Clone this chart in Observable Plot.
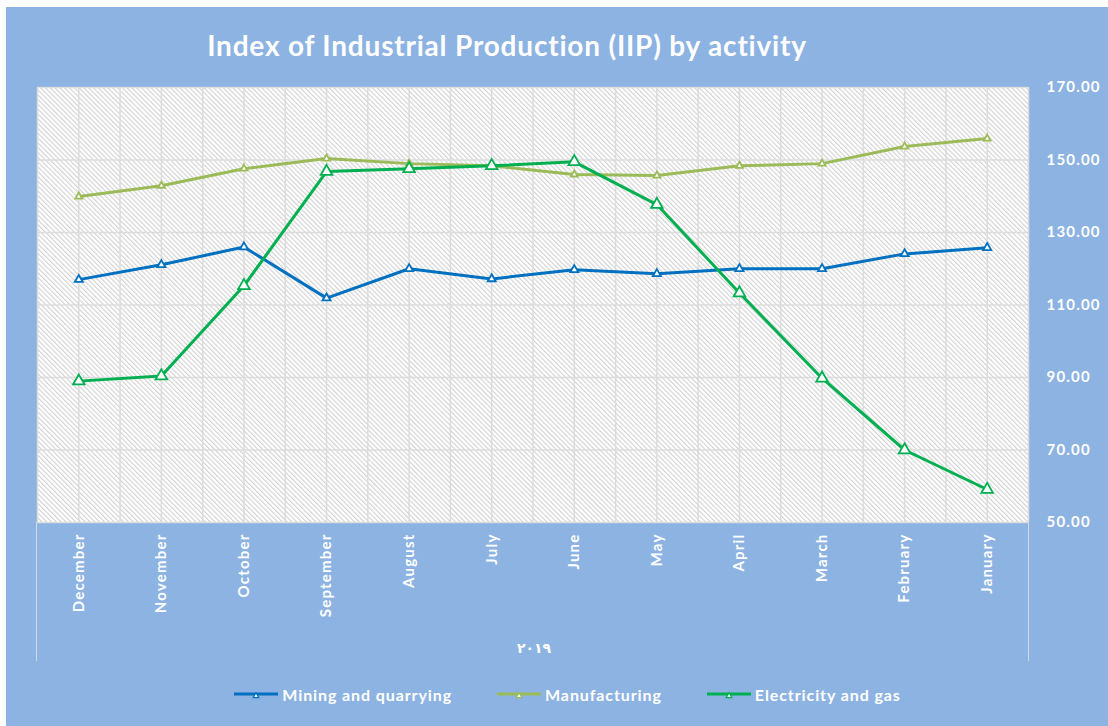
<!DOCTYPE html>
<html>
<head>
<meta charset="utf-8">
<script src="https://cdn.jsdelivr.net/npm/d3@7"></script>
<script src="https://cdn.jsdelivr.net/npm/@observablehq/plot@0.6"></script>
<style>
  html, body { margin: 0; padding: 0; background: #ffffff; }
  #page { position: relative; width: 1108px; height: 726px; overflow: hidden; background: #ffffff; }
  #bg { position: absolute; left: 6px; top: 7px; right: 0; bottom: 0; background: #8DB3E2; }
  #title { position: absolute; left: 0; width: 1014px; top: 29px; text-align: center;
           font-family: Lato, "Open Sans", sans-serif; font-weight: 700; font-size: 28px; line-height: 32px;
           letter-spacing: 0.8px; color: #ffffff; }
  #chart { position: absolute; left: 0; top: 0; }
  #catbox { position: absolute; left: 36px; top: 522px; width: 991px; height: 139px;
            border-left: 1.5px solid #d4d9e2; border-right: 1.5px solid #d4d9e2; }
  #year { position: absolute; left: 0; width: 1068px; top: 640px; text-align: center;
          font-family: "DejaVu Sans", sans-serif; font-weight: 700; font-size: 14px; color: #ffffff; }
  #legend { position: absolute; left: 0; width: 1134px; top: 685px; display: flex; justify-content: center; gap: 44px;
            font-family: Lato, "Open Sans", sans-serif; font-weight: 700; font-size: 16px; letter-spacing: 0.9px; color: #ffffff; }
  .item { display: flex; align-items: center; gap: 3px; }
</style>
</head>
<body>
<div id="page">
  <div id="bg"></div>
  <div id="catbox"></div>
  <div id="title"></div>
  <div id="chart"></div>
  <div id="year"></div>
  <div id="legend"></div>
</div>
<script>
const titleText = "Index of Industrial Production (IIP) by activity";
const yearLabel = "٢٠١٩";
const months = ["December","November","October","September","August","July","June","May","April","March","February","January"];
const seriesNames = ["Mining and quarrying","Manufacturing","Electricity and gas"];
const seriesColors = ["#0070C0","#9BBB59","#00B050"];
const mining = [117.0, 121.1, 126.0, 111.9, 120.0, 117.2, 119.7, 118.6, 120.0, 120.0, 124.1, 125.8];
const manufacturing = [139.9, 142.9, 147.6, 150.4, 149.0, 148.4, 146.0, 145.7, 148.4, 149.0, 153.7, 155.9];
const electricity = [89.0, 90.4, 115.3, 146.8, 147.6, 148.4, 149.5, 137.7, 113.3, 89.8, 70.0, 59.1];
const yTicks = [50, 70, 90, 110, 130, 150, 170];

const seriesValues = [mining, manufacturing, electricity];
const markerR = [3.0, 2.6, 4.3];

const rows = seriesNames.flatMap((s, k) => seriesValues[k].map((v, i) => ({series: s, i, month: months[i], value: v})));

document.getElementById("title").textContent = titleText;
document.getElementById("year").textContent = yearLabel;

const halfSteps = d3.range(-0.5, months.length, 0.5);

const plot = Plot.plot({
  width: 1108,
  height: 680,
  marginLeft: 37,
  marginRight: 80,
  marginTop: 87,
  marginBottom: 158,
  style: {background: "transparent", color: "#ffffff", fontFamily: "Lato, 'Open Sans', sans-serif"},
  x: {type: "linear", domain: [-0.5, months.length - 0.5]},
  y: {domain: [50, 170]},
  color: {domain: seriesNames, range: seriesColors},
  marks: [
    Plot.frame({fill: "url(#hatch)", stroke: null}),
    Plot.ruleY(yTicks, {stroke: "#dcdcdc", strokeWidth: 1.5}),
    Plot.ruleX(halfSteps, {stroke: "#dcdcdc", strokeWidth: 1.5}),
    Plot.axisX({ticks: d3.range(months.length), tickFormat: i => months[i], tickRotate: -90, tickSize: 0, tickPadding: 11,
                fontSize: 15, fontWeight: "bold", fill: "#ffffff", label: null, className: "xax"}),
    Plot.axisY({anchor: "right", ticks: yTicks, tickFormat: d => d.toFixed(2), tickSize: 0, tickPadding: 18,
                fontSize: 15, fontWeight: "bold", fill: "#ffffff", label: null, className: "yax"}),
    ...seriesNames.map((s, k) => [
      Plot.line(rows.filter(d => d.series === s), {x: "i", y: "value", stroke: "series", strokeWidth: 3, strokeLinejoin: "round"}),
      Plot.dot(rows.filter(d => d.series === s), {x: "i", y: "value", symbol: "triangle", r: markerR[k], stroke: "series", strokeWidth: 1.8, fill: "#ffffff"})
    ]).flat()
  ]
});

d3.select(plot).insert("defs", ":first-child").html(
  `<pattern id="hatch" patternUnits="userSpaceOnUse" width="3.4" height="3.4" patternTransform="rotate(-45)">
     <rect width="3.4" height="3.4" fill="#ffffff"/>
     <line x1="0.6" y1="0" x2="0.6" y2="3.4" stroke="#cccccc" stroke-width="1"/>
   </pattern>`);
d3.select(plot).selectAll(".xax text").style("letter-spacing", "1.2px");
d3.select(plot).selectAll(".yax text").style("letter-spacing", "1.2px");

document.getElementById("chart").appendChild(plot);

const legend = d3.select("#legend");
seriesNames.forEach((s, k) => {
  const item = legend.append("div").attr("class", "item");
  const sw = item.append("svg").attr("width", 46).attr("height", 14);
  sw.append("line").attr("x1", 1).attr("x2", 45).attr("y1", 6).attr("y2", 6)
    .attr("stroke", seriesColors[k]).attr("stroke-width", 3);
  sw.append("path").attr("d", d3.symbol(d3.symbolTriangle, 14)()).attr("transform", "translate(23,8)")
    .attr("fill", "#ffffff").attr("stroke", seriesColors[k]).attr("stroke-width", 1.2);
  item.append("span").text(s);
});
</script>
</body>
</html>
